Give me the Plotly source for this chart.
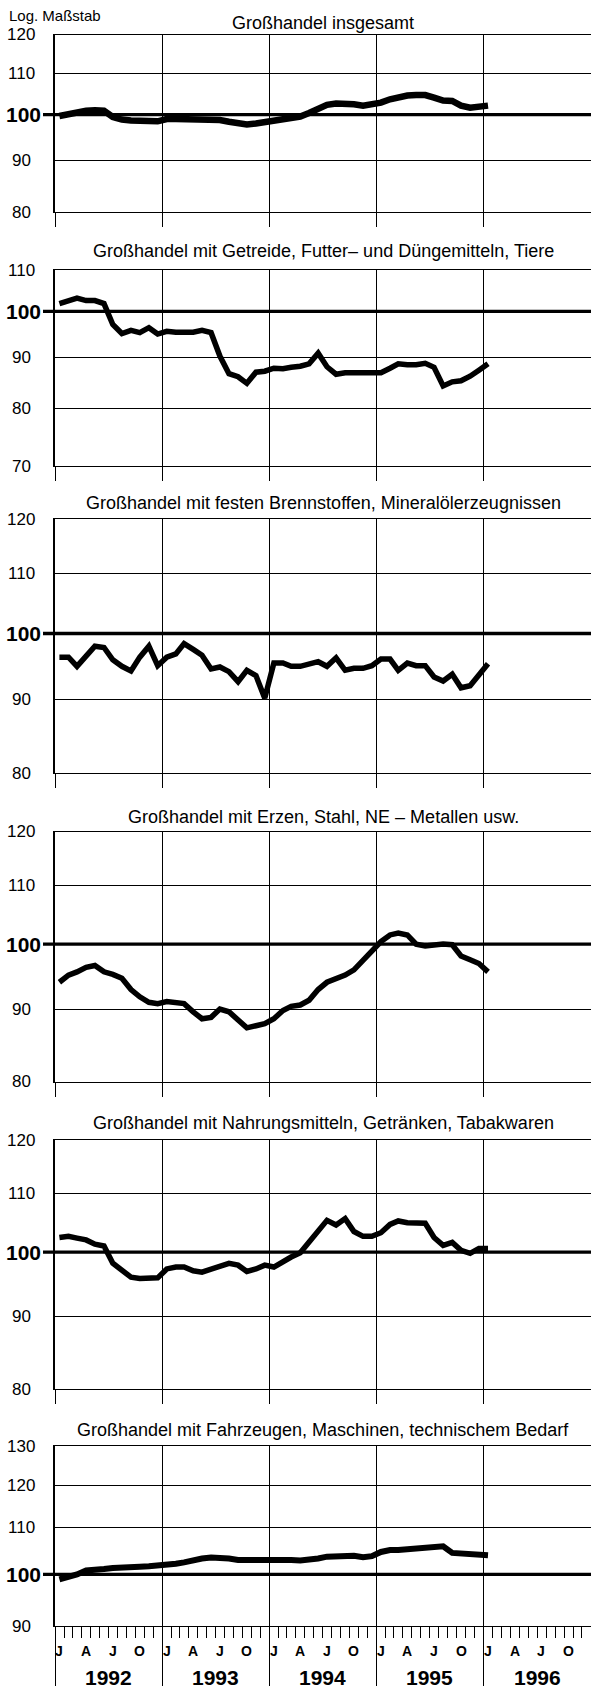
import math
import plotly.graph_objects as go

# ---------------- data (monthly index values, Jan 1992 - Jan 1996) ----------------
months = [f"{1992 + i // 12}-{i % 12 + 1:02d}-16" for i in range(49)]

insgesamt = [99.7, 100.1, 100.6, 100.9, 101.0, 100.9, 99.5, 98.9, 98.7, 98.5, 98.6, 98.5,
             99.0, 99.0, 99.0, 98.8, 98.8, 99.0, 98.8, 98.4, 98.1, 97.8, 98.0, 98.3,
             98.5, 99.0, 99.3, 99.6, 100.4, 101.5, 102.3, 102.6, 102.6, 102.4, 102.1, 102.3,
             102.8, 103.6, 104.1, 104.5, 104.6, 104.6, 104.0, 103.3, 103.2, 102.1, 101.6, 101.7,
             102.1]

getreide = [101.8, 102.4, 103.1, 102.5, 102.5, 101.8, 97.0, 95.0, 95.7, 95.2, 96.3, 94.9,
            95.5, 95.3, 95.3, 95.3, 95.7, 95.2, 90.2, 86.6, 86.0, 84.7, 86.9, 87.1,
            87.7, 87.6, 87.9, 88.1, 88.6, 90.8, 88.0, 86.5, 86.8, 86.8, 86.8, 86.7,
            86.8, 87.7, 88.6, 88.4, 88.4, 88.7, 87.9, 84.2, 85.0, 85.2, 86.1, 87.3,
            88.6]

brennstoffe = [96.3, 96.3, 94.9, 96.6, 98.0, 97.8, 95.9, 94.9, 94.2, 96.3, 98.0, 95.0,
               96.3, 96.8, 98.4, 97.5, 96.6, 94.5, 94.8, 94.1, 92.6, 94.3, 93.5, 90.2,
               95.4, 95.4, 94.9, 94.9, 95.3, 95.6, 94.9, 96.2, 94.3, 94.6, 94.6, 95.0,
               96.0, 96.0, 94.3, 95.4, 95.0, 95.0, 93.3, 92.7, 93.7, 91.7, 92.0, 93.5,
               95.3]

erze = [94.0, 95.1, 95.6, 96.3, 96.6, 95.6, 95.2, 94.6, 92.9, 91.8, 91.0, 90.8,
        91.1, 90.9, 90.8, 89.6, 88.6, 88.8, 90.0, 89.6, 88.3, 87.3, 87.6, 87.9,
        88.6, 89.8, 90.4, 90.6, 91.3, 92.9, 94.0, 94.5, 95.1, 95.9, 97.3, 98.7,
        100.4, 101.5, 101.8, 101.5, 100.0, 99.7, 99.9, 100.0, 99.9, 98.1, 97.5, 96.9,
        95.6]

nahrung = [102.4, 102.6, 102.3, 102.0, 101.3, 101.0, 98.2, 97.1, 96.0, 95.8, 95.8, 95.9,
           97.3, 97.6, 97.6, 97.0, 96.8, 97.3, 97.8, 98.2, 97.9, 96.9, 97.3, 97.9,
           97.6, 98.5, 99.2, 99.9, 101.6, 103.3, 105.3, 104.5, 105.6, 103.4, 102.6, 102.6,
           103.2, 104.6, 105.2, 104.9, 104.9, 104.8, 102.4, 101.1, 101.6, 100.3, 99.8, 100.6,
           100.6]

fahrzeuge = [99.0, 99.4, 100.0, 100.8, 101.1, 101.1, 101.3, 101.3, 101.4, 101.6, 101.7, 101.8,
             102.0, 102.2, 102.5, 103.0, 103.3, 103.5, 103.5, 103.3, 103.0, 103.0, 103.1, 103.3,
             103.3, 103.3, 103.0, 102.9, 103.0, 103.3, 103.7, 103.8, 104.0, 103.9, 103.6, 103.8,
             104.7, 105.1, 105.1, 105.3, 105.4, 105.5, 105.6, 105.9, 104.5, 104.3, 104.3, 104.2,
             104.0]

series = [insgesamt, getreide, brennstoffe, erze, nahrung, fahrzeuge]

titles = ["Großhandel insgesamt",
          "Großhandel mit Getreide, Futter– und Düngemitteln, Tiere",
          "Großhandel mit festen Brennstoffen, Mineralölerzeugnissen",
          "Großhandel mit Erzen, Stahl, NE – Metallen usw.",
          "Großhandel mit Nahrungsmitteln, Getränken, Tabakwaren",
          "Großhandel mit Fahrzeugen, Maschinen, technischem Bedarf"]

y_ticks = [[80, 90, 100, 110, 120],
           [70, 80, 90, 100, 110],
           [80, 90, 100, 110, 120],
           [80, 90, 100, 110, 120],
           [80, 90, 100, 110, 120],
           [90, 100, 110, 120, 130]]

years = [1992, 1993, 1994, 1995, 1996]
month_letters = ["J", "A", "J", "O"]
month_numbers = [1, 4, 7, 10]

# ---------------- layout geometry (pixels) ----------------
W, H = 591, 1689
X_LEFT = 55
panel_px = [(35, 212.3), (270, 466), (519.3, 773.3), (831.7, 1081.7), (1140, 1389.3), (1446, 1626)]
title_px = [23.3, 250.7, 503.3, 816.7, 1123.3, 1430]
line_w = [6.5, 5.5, 5.5, 5.5, 5.5, 6]

FONT = "Liberation Sans, Arial, Helvetica, sans-serif"


def py(px):
    return 1 - px / H


fig = go.Figure()
layout = dict(width=W, height=H, margin=dict(l=0, r=0, t=0, b=0),
              paper_bgcolor="white", plot_bgcolor="white",
              font=dict(family=FONT, color="black"), showlegend=False)
annotations = []
shapes = []

year_ticks = [f"{y}-01-01" for y in range(1992, 1998)]

for k in range(6):
    n = k + 1
    xa = "x" if n == 1 else f"x{n}"
    ya = "y" if n == 1 else f"y{n}"
    fig.add_trace(go.Scatter(x=months, y=series[k], mode="lines", xaxis=xa, yaxis=ya,
                             line=dict(color="black", width=line_w[k]),
                             hoverinfo="skip"))
    top, bot = panel_px[k]
    ticks = y_ticks[k]
    xaxis = dict(domain=[X_LEFT / W, 1], type="date", range=["1992-01-01", "1997-01-01"],
                 tickmode="array", tickvals=year_ticks, showticklabels=False,
                 showgrid=True, gridcolor="black", gridwidth=1.3,
                 ticks="outside", ticklen=14 if n < 6 else 59, tickcolor="black", tickwidth=1.3,
                 showline=True, mirror=True, linecolor="black", linewidth=1.3,
                 zeroline=False, fixedrange=True, anchor=ya)
    if n == 6:
        xaxis["minor"] = dict(dtick="M1", tick0="1992-01-01", ticks="outside", ticklen=11,
                              tickcolor="black", tickwidth=1.3, showgrid=False)
    yaxis = dict(domain=[py(bot), py(top)], type="log",
                 range=[math.log10(ticks[0]), math.log10(ticks[-1])],
                 tickmode="array", tickvals=[t for t in ticks if t != 100],
                 showticklabels=False, ticks="",
                 showgrid=True, gridcolor="black", gridwidth=1.2,
                 showline=True, linecolor="black", linewidth=1.5,
                 zeroline=False, fixedrange=True, anchor=xa)
    layout["xaxis" if n == 1 else f"xaxis{n}"] = xaxis
    layout["yaxis" if n == 1 else f"yaxis{n}"] = yaxis

    # heavy 100 reference line
    shapes.append(dict(type="line", xref="paper", yref=ya, x0=43 / W, x1=1,
                       y0=100, y1=100, line=dict(color="black", width=3.3)))

    # title
    annotations.append(dict(text=titles[k], xref="paper", yref="paper",
                            x=(X_LEFT + W) / 2 / W, y=py(title_px[k]),
                            xanchor="center", yanchor="middle", showarrow=False,
                            font=dict(size=18, family=FONT)))
    # y labels
    for t in ticks:
        bold = t == 100
        annotations.append(dict(text=f"<b>{t}</b>" if bold else str(t),
                                xref="paper", yref=ya,
                                x=(24 if bold else 21) / W, y=math.log10(t),
                                xanchor="center", yanchor="middle", showarrow=False,
                                font=dict(size=21 if bold else 17, family=FONT)))

annotations.append(dict(text="Log. Maßstab", xref="paper", yref="paper",
                        x=7 / W, y=py(15.3), xanchor="left", yanchor="middle",
                        showarrow=False, font=dict(size=15, family=FONT)))

# month letters and year labels under the last panel
for yr in years:
    for letter, m in zip(month_letters, month_numbers):
        annotations.append(dict(text=f"<b>{letter}</b>", xref="x6", yref="paper",
                                x=f"{yr}-{m:02d}-16", y=py(1651),
                                xanchor="center", yanchor="middle", showarrow=False,
                                font=dict(size=14, family=FONT)))
    annotations.append(dict(text=f"<b>{yr}</b>", xref="x6", yref="paper",
                            x=f"{yr}-07-01", y=py(1677.5),
                            xanchor="center", yanchor="middle", showarrow=False,
                            font=dict(size=21, family=FONT)))

layout["annotations"] = annotations
layout["shapes"] = shapes
fig.update_layout(**layout)
fig.write_html("out.html", config={"displayModeBar": False},
               post_script="document.body.style.margin='0';document.body.style.padding='0';")
